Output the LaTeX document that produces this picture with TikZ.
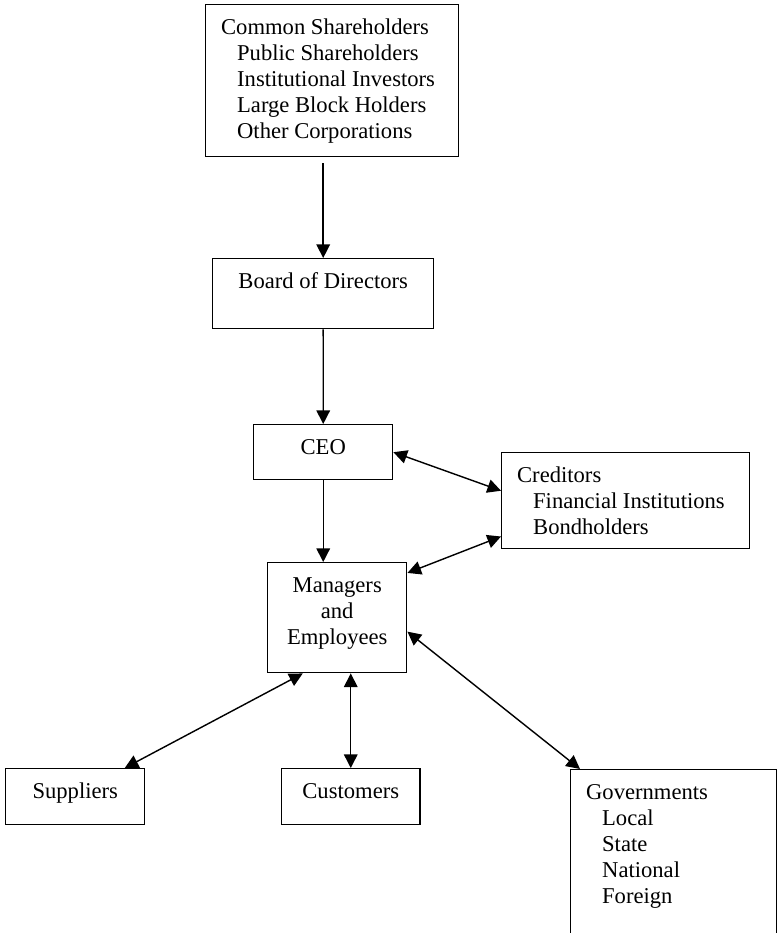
\documentclass[tikz,border=0pt]{standalone}
\usepackage{fontspec}
\setmainfont{Liberation Serif}
\usetikzlibrary{arrows.meta}

\newcommand{\ind}{\hspace*{8.5pt}}

\begin{document}
\begin{tikzpicture}[x=0.5308pt, y=-0.5308pt,
  wbox/.style n args={3}{draw, line width=0.75pt, anchor=north west,
    inner xsep=8.2pt, inner ysep=6pt,
    execute at begin node={\begin{minipage}[c][#2][t]{#1}\fontsize{12}{13.8}\selectfont#3\strut},
    execute at end node={\end{minipage}}},
  arr/.style={line width=0.75pt, -{Triangle[length=7.2pt,width=7.2pt]}},
  darr/.style={line width=0.75pt, {Triangle[length=7.2pt,width=7.2pt]}-{Triangle[length=7.2pt,width=7.2pt]}}]

\useasboundingbox (0,0) rectangle (777,933);
\clip (0,0) rectangle (777,933);

% boxes
\node[wbox={117.9pt}{68.7pt}{}] (cs) at (205,4)
  {Common Shareholders\\ \ind Public Shareholders\\ \ind Institutional Investors\\ \ind Large Block Holders\\ \ind Other Corporations};
\node[wbox={100.9pt}{25.2pt}{\centering}] (bod) at (212,258) {Board of Directors};
\node[wbox={57.4pt}{17.2pt}{\centering}] (ceo) at (253,424) {CEO};
\node[wbox={115.2pt}{39pt}{}] (cred) at (501,452)
  {Creditors\\ \ind Financial Institutions\\ \ind Bondholders};
\node[wbox={57.4pt}{46.4pt}{\centering}] (mgr) at (267,562) {Managers\\ and\\ Employees};
\node[wbox={57.4pt}{17.7pt}{\centering}] (sup) at (5,768) {Suppliers};
\node[wbox={56.9pt}{17.7pt}{\centering}] (cus) at (281,768) {Customers};
\node[wbox={92.9pt}{94.2pt}{}] (gov) at (570,769)
  {Governments\\ \ind Local\\ \ind State\\ \ind National\\ \ind Foreign};

% arrows
\draw[arr] ([yshift=-3.2pt]cs.south -| bod.north) -- (bod.north);
\draw[arr] (bod.south) -- (ceo.north);
\draw[arr] (ceo.south) -- (ceo.south |- mgr.north);
\draw[darr] (ceo.east) -- ([yshift=5.3pt]cred.west);
\draw[darr] ([yshift=-5.8pt]mgr.north east) -- ([yshift=6.9pt]cred.south west);
\draw[darr] ([xshift=26.3pt]sup.north) -- ([xshift=-18.3pt]mgr.south);
\draw[darr] (cus.north) -- (cus.north |- mgr.south);
\draw[darr] ([yshift=-7.4pt]mgr.east) -- ([xshift=5.3pt]gov.north west);

\end{tikzpicture}
\end{document}
